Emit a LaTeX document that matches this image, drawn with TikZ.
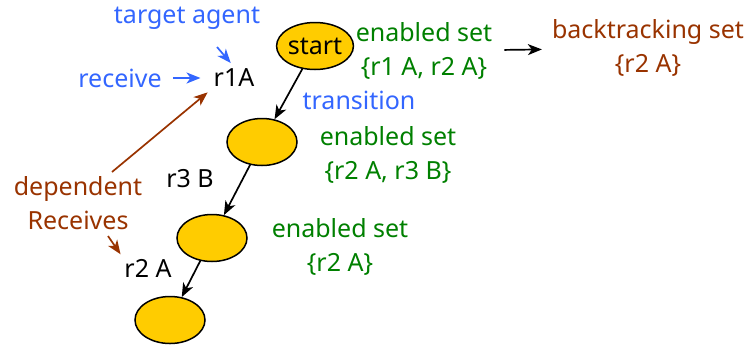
\documentclass[tikz,border=0pt]{standalone}
\usepackage{fontspec}
\setmainfont{Noto Sans}
\usepackage{tikz}
\usetikzlibrary{arrows.meta}
\usetikzlibrary{shapes.geometric}
\usetikzlibrary{positioning}
\definecolor{lblblue}{RGB}{51,102,255}
\definecolor{setgreen}{RGB}{0,128,0}
\definecolor{btbrown}{RGB}{153,51,0}
\definecolor{stfill}{RGB}{255,204,0}
\tikzset{state/.style={ellipse,fill=stfill,draw=black,line width=1.5pt,minimum width=70pt,minimum height=47pt,inner sep=0pt}}
\tikzset{lbl/.style={text=lblblue,inner sep=2pt}}
\tikzset{enset/.style={text=setgreen,align=center,inner sep=2pt}}
\tikzset{btset/.style={text=btbrown,align=center,inner sep=2pt}}
\tikzset{act/.style={text=black,inner sep=2pt}}
\tikzset{conn/.style={-{Stealth[length=14pt,width=11pt,inset=4pt]},line width=1.7pt}}

\begin{document}
\begin{tikzpicture}[x=1pt,y=-1pt,font=\fontsize{25}{34}\selectfont]
\useasboundingbox (0,0) rectangle (751,346);

% states
\node[state] (s0) at (315,46) {start};
\node[state] (s1) at (262,142) {};
\node[state] (s2) at (212,238) {};
\node[state] (s3) at (170,320) {};

\foreach \i/\j in {0/1, 1/2, 2/3}
  {
 \draw[conn] (s\i) -- (s\j);
  }

% actions
\node[act] (r1A) at (234,78) {r1A};
\node[act] (r3B) at (190,179) {r3 B};
\node[act] (r2A) at (148,268) {r2 A};

% sets
\node[enset] (en0) at (424,51) {enabled set\\\{r1 A, r2 A\}};
\node[enset] (en1) at (388,155) {enabled set\\\{r2 A, r3 B\}};
\node[enset] (en2) at (340,247) {enabled set\\\{r2 A\}};
\node[btset] (bt0) at (648,48) {backtracking set\\\{r2 A\}};
\draw[conn,shorten <=10pt,shorten >=8pt] (en0) -- (bt0);

% labels
\node[lbl] (tgt) at (187,18) {target agent};
\node[lbl] (recv) at (120,78) {receive};
\node[lbl] (trans) at (359,100) {transition};
\coordinate (tgttail) at (217,47);
\draw[conn,lblblue,shorten >=5pt] (tgttail) -- (r1A.north);
\draw[conn,lblblue,shorten <=9pt,shorten >=11pt] (recv) -- (r1A);

\node[btset] (dep) at (78,203) {dependent\\Receives};
\coordinate (deptail) at (112,172);
\coordinate (deptail2) at (108,236);
\draw[conn,btbrown,shorten >=5pt] (deptail) -- (r1A.south west);
\draw[conn,btbrown,shorten >=3pt] (deptail2) -- (r2A.north west);

\end{tikzpicture}
\end{document}
